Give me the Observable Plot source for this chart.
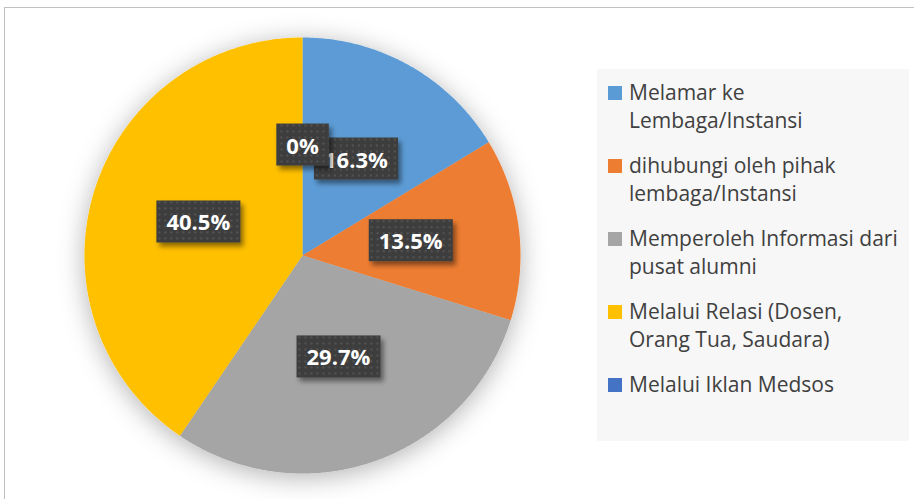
<!DOCTYPE html>
<html><head><meta charset="utf-8">
<script src="https://cdn.jsdelivr.net/npm/d3@7"></script>
<script src="https://cdn.jsdelivr.net/npm/@observablehq/plot@0.6"></script>
<style>
body{margin:0;background:#fff;}
#wrap{position:relative;width:914px;height:499px;overflow:hidden;}
#frame{position:absolute;left:4px;top:7px;width:1000px;height:1000px;border:1px solid #c0c0c0;box-sizing:border-box;pointer-events:none;}
#legend{position:absolute;left:597px;top:69px;width:312px;height:372px;background:#f7f7f7;box-sizing:border-box;padding:9px 0 0 11px;font-family:"Open Sans",sans-serif;font-size:21px;line-height:28px;color:#404040;}
.item{display:flex;margin-bottom:17px}
.sw{width:14px;height:14px;flex:none;margin-top:8px;margin-right:7px}
.lab{max-width:273px}
</style></head>
<body>
<div id="wrap"><div id="chart"></div><div id="frame"></div><div id="legend"></div></div>
<script>
const categories = ["Melamar ke Lembaga/Instansi", "dihubungi oleh pihak lembaga/Instansi", "Memperoleh Informasi dari pusat alumni", "Melalui Relasi (Dosen, Orang Tua, Saudara)", "Melalui Iklan Medsos"];
const values = [16.3, 13.5, 29.7, 40.5, 0];
const valueLabels = ["16.3%", "13.5%", "29.7%", "40.5%", "0%"];
const colors = ["#5B9BD5", "#ED7D31", "#A5A5A5", "#FFC000", "#4472C4"];

const total = d3.sum(values);
const slices = [];
const labelData = [];
let acc = 0;
values.forEach((v, i) => {
  const a0 = acc / total * 2 * Math.PI;
  acc += v;
  const a1 = acc / total * 2 * Math.PI;
  const mid = (a0 + a1) / 2;
  labelData.push({cat: categories[i], text: valueLabels[i], x: 0.5 * Math.sin(mid), y: 0.5 * Math.cos(mid)});
  if (v <= 0) return;
  const n = Math.max(2, Math.ceil((a1 - a0) / (Math.PI / 360)));
  slices.push({cat: categories[i], x: 0, y: 0});
  for (let k = 0; k <= n; k++) {
    const a = a0 + (a1 - a0) * k / n;
    slices.push({cat: categories[i], x: Math.sin(a), y: Math.cos(a)});
  }
  slices.push({cat: categories[i], x: 0, y: 0});
});

const plot = Plot.plot({
  width: 914,
  height: 499,
  style: {background: "transparent"},
  x: {domain: [-1, 1], range: [84, 520], axis: null},
  y: {domain: [-1, 1], range: [473, 37], axis: null},
  color: {domain: categories, range: colors},
  marks: [
    Plot.line(slices, {x: "x", y: "y", z: "cat", fill: "cat", stroke: "none", curve: "linear"}),
    Plot.text(labelData, {x: "x", y: "y", text: "text", fill: "white", fontSize: 22, fontWeight: "bold", fontFamily: "Open Sans"})
  ]
});
document.getElementById("chart").appendChild(plot);

const svg = d3.select(plot);
const defs = svg.insert("defs", ":first-child");
const pat = defs.append("pattern").attr("id", "dots").attr("width", 6).attr("height", 6).attr("patternUnits", "userSpaceOnUse");
pat.append("rect").attr("width", 6).attr("height", 6).attr("fill", "#3e3e3e");
pat.append("circle").attr("cx", 3).attr("cy", 3).attr("r", 1.1).attr("fill", "#575757");
const f1 = defs.append("filter").attr("id", "pieShadow").attr("x", "-30%").attr("y", "-30%").attr("width", "160%").attr("height", "160%");
f1.append("feDropShadow").attr("dx", 0).attr("dy", 4).attr("stdDeviation", 13).attr("flood-color", "#000").attr("flood-opacity", 0.3);
const f2 = defs.append("filter").attr("id", "boxShadow").attr("x", "-30%").attr("y", "-30%").attr("width", "160%").attr("height", "160%");
f2.append("feDropShadow").attr("dx", 3).attr("dy", 4).attr("stdDeviation", 2.5).attr("flood-color", "#000").attr("flood-opacity", 0.45);

svg.select("g[aria-label=line]").attr("filter", "url(#pieShadow)");
svg.selectAll("g[aria-label=text] text").each(function() {
  const bb = this.getBBox();
  const padX = 10;
  const cy = bb.y + bb.height / 2;
  d3.select(this.parentNode).insert("rect", () => this)
    .attr("transform", this.getAttribute("transform"))
    .attr("x", bb.x - padX).attr("y", cy - 21)
    .attr("width", bb.width + 2 * padX).attr("height", 42)
    .attr("fill", "url(#dots)")
    .attr("filter", "url(#boxShadow)");
});

const color = plot.scale("color");
const legend = d3.select("#legend");
categories.forEach((c, i) => {
  const item = legend.append("div").attr("class", "item");
  item.append("div").attr("class", "sw").style("background", colors[color.domain.indexOf(c)]);
  item.append("div").attr("class", "lab").text(c);
});
</script>
</body></html>
